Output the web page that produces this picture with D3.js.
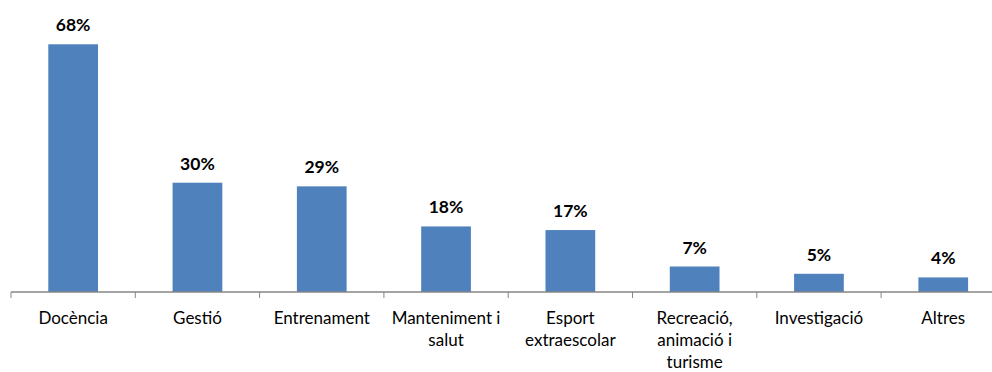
<!DOCTYPE html>
<html>
<head>
<meta charset="utf-8">
<script src="https://cdn.jsdelivr.net/npm/d3@7"></script>
<style>
  html, body { margin: 0; padding: 0; background: #fff; }
  svg { display: block; }
  text { font-family: Lato, "Open Sans", sans-serif; fill: #000; }
</style>
</head>
<body>
<svg id="chart" width="992" height="372"></svg>
<script>
const categories = ["Docència", "Gestió", "Entrenament", "Manteniment i salut",
  "Esport extraescolar", "Recreació, animació i turisme", "Investigació", "Altres"];
const values = [68, 30, 29, 18, 17, 7, 5, 4];

const svg = d3.select("#chart");
const baseY = 292;
const x = d3.scaleBand().domain(categories).range([11, 1005.4])
  .paddingInner(0.6).paddingOuter(0.3);
const y = d3.scaleLinear().domain([0, 70]).range([baseY, 37]);

// bars
svg.append("g").selectAll("rect").data(values).join("rect")
  .attr("x", (d, i) => x(categories[i]))
  .attr("y", d => y(d))
  .attr("width", x.bandwidth())
  .attr("height", d => baseY - y(d))
  .attr("fill", "#4F81BD");

// value labels
svg.append("g").selectAll("text").data(values).join("text")
  .attr("x", (d, i) => x(categories[i]) + x.bandwidth() / 2)
  .attr("y", d => y(d) - 13)
  .attr("text-anchor", "middle")
  .attr("font-size", 17.5)
  .attr("font-weight", "bold")
  .text(d => d + "%");

// category axis: line plus tick marks on the band boundaries
const axis = svg.append("g");
axis.append("line").attr("x1", 11).attr("x2", 992)
  .attr("y1", baseY).attr("y2", baseY)
  .attr("stroke", "#868686").attr("stroke-width", 1.5);
const gap = (x.step() - x.bandwidth()) / 2;
axis.selectAll("line.tick").data(categories).join("line")
  .attr("class", "tick")
  .attr("x1", d => x(d) - gap).attr("x2", d => x(d) - gap)
  .attr("y1", baseY).attr("y2", baseY + 6)
  .attr("stroke", "#868686").attr("stroke-width", 1);

// wrapped category labels
const maxW = x.step() - 2;
const lineH = 22;
categories.forEach(c => {
  const cx = x(c) + x.bandwidth() / 2;
  const t = axis.append("text")
    .attr("x", cx)
    .attr("y", baseY + 32)
    .attr("text-anchor", "middle")
    .attr("font-size", 17);
  const words = c.split(" ");
  let line = [];
  let ts = t.append("tspan").attr("x", cx).attr("dy", 0);
  words.forEach(w => {
    line.push(w);
    ts.text(line.join(" "));
    if (ts.node().getComputedTextLength() > maxW && line.length > 1) {
      line.pop();
      ts.text(line.join(" "));
      line = [w];
      ts = t.append("tspan").attr("x", cx).attr("dy", lineH).text(w);
    }
  });
});
</script>
</body>
</html>
